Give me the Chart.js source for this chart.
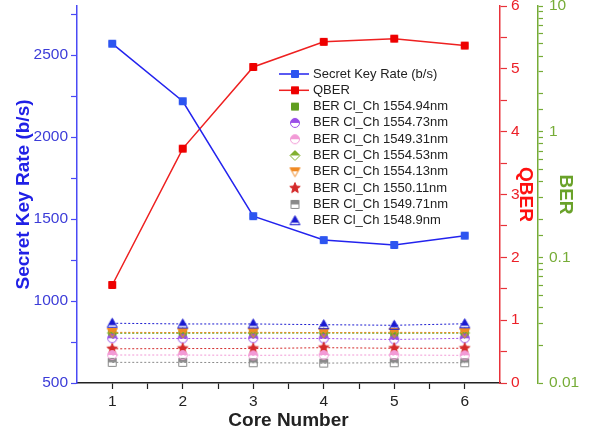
<!DOCTYPE html>
<html>
<head>
<meta charset="utf-8">
<script src="https://cdn.jsdelivr.net/npm/chart.js@4/dist/chart.umd.min.js"></script>
<style>
  html, body { margin: 0; padding: 0; background: #fff; }
  #wrap { width: 592px; height: 431px; }
</style>
</head>
<body>
<div id="wrap"><canvas id="chart" width="592" height="431"></canvas></div>
<script>
// Data
const coreNumbers = [1, 2, 3, 4, 5, 6];
const secretKeyRate = [2570, 2219, 1518, 1372, 1342, 1399];
const qber = [1.56, 3.73, 5.03, 5.43, 5.48, 5.37];

const ber155494 = [0.0249, 0.0249, 0.0250, 0.0250, 0.0249, 0.0250];
const ber155473 = [0.0227, 0.0226, 0.0227, 0.0226, 0.0222, 0.0227];
const ber154931 = [0.0167, 0.0167, 0.0166, 0.0167, 0.0167, 0.0166];
const ber155453 = [0.0250, 0.0251, 0.0250, 0.0251, 0.0250, 0.0250];
const ber155413 = [0.0253, 0.0252, 0.0253, 0.0252, 0.0253, 0.0252];
const ber155011 = [0.0187, 0.0188, 0.0188, 0.0191, 0.0189, 0.0189];
const ber154971 = [0.0146, 0.0146, 0.0145, 0.0144, 0.0145, 0.0145];
const ber15489  = [0.0299, 0.0295, 0.0295, 0.0291, 0.0288, 0.0296];

// Axis ticks
const xTicks = [1, 1.5, 2, 2.5, 3, 3.5, 4, 4.5, 5, 5.5, 6];
const skrTicks = [500, 750, 1000, 1250, 1500, 1750, 2000, 2250, 2500, 2750];
const qberTicks = [0, 0.5, 1, 1.5, 2, 2.5, 3, 3.5, 4, 4.5, 5, 5.5, 6];

const FONT = '"Liberation Sans", Arial, sans-serif';
const BLUE = '#2323ee', RED = '#ee2020', GREEN = '#76ac37';

// draws a small marker into its own canvas, filled from the top by fillFrac
function makeMarker(shape, color, fillFrac, size) {
    const s = size + 3;
    const c = document.createElement('canvas');
    c.width = s; c.height = s;
    const ctx = c.getContext('2d');
    const cx = s / 2, cy = s / 2, r = size / 2;
    const trace = () => {
        ctx.beginPath();
        if (shape === 'square') {
            ctx.rect(cx - r, cy - r, size, size);
        } else if (shape === 'circle') {
            ctx.arc(cx, cy, r, 0, Math.PI * 2);
        } else if (shape === 'diamond') {
            ctx.moveTo(cx, cy - r); ctx.lineTo(cx + r, cy); ctx.lineTo(cx, cy + r); ctx.lineTo(cx - r, cy);
            ctx.closePath();
        } else if (shape === 'triUp') {
            ctx.moveTo(cx, cy - r); ctx.lineTo(cx + r, cy + r * 0.8); ctx.lineTo(cx - r, cy + r * 0.8);
            ctx.closePath();
        } else if (shape === 'triDown') {
            ctx.moveTo(cx, cy + r); ctx.lineTo(cx + r, cy - r * 0.8); ctx.lineTo(cx - r, cy - r * 0.8);
            ctx.closePath();
        } else if (shape === 'star') {
            for (let i = 0; i < 10; i++) {
                const a = -Math.PI / 2 + i * Math.PI / 5;
                const rr = i % 2 === 0 ? r : r * 0.45;
                const px = cx + rr * Math.cos(a), py = cy + rr * Math.sin(a);
                if (i === 0) ctx.moveTo(px, py); else ctx.lineTo(px, py);
            }
            ctx.closePath();
        }
    };
    ctx.save();
    trace();
    ctx.clip();
    ctx.fillStyle = color;
    ctx.fillRect(0, 0, s, cy - r + fillFrac * size);
    ctx.restore();
    trace();
    ctx.lineWidth = 1;
    ctx.strokeStyle = color;
    ctx.stroke();
    return c;
}

const toPoints = (vals) => coreNumbers.map((c, i) => ({ x: c, y: vals[i] }));

function berSet(label, vals, color, marker, order) {
    return {
        label: label,
        data: toPoints(vals),
        yAxisID: 'yBer',
        borderColor: color,
        backgroundColor: color,
        borderWidth: 1,
        borderDash: [2, 2],
        pointStyle: marker,
        pointRadius: 5,
        tension: 0,
        order: order || 0
    };
}

const datasets = [
    { label: 'Secret Key Rate (b/s)', data: toPoints(secretKeyRate), yAxisID: 'ySkr',
      borderColor: BLUE, backgroundColor: '#2d55f0', borderWidth: 1.5,
      pointStyle: makeMarker('square', '#2d55f0', 1, 7), pointRadius: 4, tension: 0, showInLegendLine: true },
    { label: 'QBER', data: toPoints(qber), yAxisID: 'yQber',
      borderColor: RED, backgroundColor: '#ee0000', borderWidth: 1.5,
      pointStyle: makeMarker('square', '#ee0000', 1, 7), pointRadius: 4, tension: 0, showInLegendLine: true },
    // this one sits behind the others, as in the original
    berSet('BER Cl_Ch 1554.94nm', ber155494, '#5f9e1f', makeMarker('square', '#5f9e1f', 1, 7), 5),
    berSet('BER Cl_Ch 1554.73nm', ber155473, '#9a4ee8', makeMarker('circle', '#9a4ee8', 0.5, 9), 4),
    berSet('BER Cl_Ch 1549.31nm', ber154931, '#f29ad6', makeMarker('circle', '#f29ad6', 0.5, 9)),
    berSet('BER Cl_Ch 1554.53nm', ber155453, '#82b030', makeMarker('diamond', '#82b030', 0.5, 10), 3),
    berSet('BER Cl_Ch 1554.13nm', ber155413, '#f08a24', makeMarker('triDown', '#f08a24', 0.45, 10), 2),
    berSet('BER Cl_Ch 1550.11nm', ber155011, '#d42a2a', makeMarker('star', '#d42a2a', 1, 11)),
    berSet('BER Cl_Ch 1549.71nm', ber154971, '#8a8a8a', makeMarker('square', '#8a8a8a', 0.5, 8)),
    berSet('BER Cl_Ch 1548.9nm', ber15489, '#1a1ad0', makeMarker('triUp', '#1a1ad0', 0.7, 10))
];

// fixed axis box sizes so the plot area sits where the original one does
function fixSize(w, h) {
    return function(scale) {
        if (w !== null) scale.width = w;
        if (h !== null) scale.height = h;
        scale.paddingTop = 0; scale.paddingBottom = 0;
        scale.paddingLeft = 0; scale.paddingRight = 0;
    };
}
const setTicks = (arr) => (scale) => { scale.ticks = arr.map(v => ({ value: v })); };

// legend drawn inside the plot, like the original
const insideLegend = {
    id: 'insideLegend',
    afterDraw(chart) {
        const ctx = chart.ctx;
        ctx.save();
        ctx.font = '13px ' + FONT;
        ctx.textBaseline = 'middle';
        ctx.fillStyle = '#222';
        chart.data.datasets.forEach((ds, i) => {
            const y = 74 + i * 16.3;
            if (ds.showInLegendLine) {
                ctx.strokeStyle = ds.borderColor;
                ctx.lineWidth = 1.5;
                ctx.beginPath(); ctx.moveTo(279, y); ctx.lineTo(309, y); ctx.stroke();
            }
            const m = ds.pointStyle;
            ctx.drawImage(m, 295 - m.width / 2, y - m.height / 2);
            ctx.fillText(ds.label, 313, y);
        });
        ctx.restore();
    }
};

const tickFont = { family: FONT, size: 15.5 };
const titleFont = { family: FONT, size: 19, weight: 'bold' };

new Chart(document.getElementById('chart').getContext('2d'), {
    type: 'line',
    data: { datasets: datasets },
    options: {
        responsive: false,
        animation: false,
        layout: { padding: { top: 6, left: 0, right: 0, bottom: 0 } },
        plugins: { legend: { display: false }, tooltip: { enabled: false } },
        scales: {
            x: {
                type: 'linear', position: 'bottom', min: 0.5, max: 6.5,
                afterBuildTicks: setTicks(xTicks),
                afterFit: fixSize(null, 48),
                grid: { drawOnChartArea: false, tickLength: 6, tickColor: '#222', tickWidth: 1.2 },
                border: { color: '#222', width: 1.5 },
                ticks: { autoSkip: false, maxRotation: 0, padding: 3, color: '#222', font: tickFont,
                         callback: (v) => Number.isInteger(v) ? String(v) : '' },
                title: { display: true, text: 'Core Number', color: '#222',
                         font: { family: FONT, size: 19, weight: 'bold', lineHeight: 1 },
                         padding: { top: 0, bottom: 1 } }
            },
            ySkr: {
                type: 'linear', position: 'left', min: 500, max: 2800,
                afterBuildTicks: setTicks(skrTicks),
                afterFit: fixSize(77, null),
                grid: { drawOnChartArea: false, tickLength: 6, tickColor: '#4a4af5', tickWidth: 1.2 },
                border: { color: '#4a4af5', width: 1.5 },
                ticks: { autoSkip: false, padding: 3, color: '#3c3cd8', font: tickFont,
                         callback: (v) => v % 500 === 0 ? String(v) : '' },
                title: { display: true, text: 'Secret Key Rate (b/s)', color: '#2020e6', font: titleFont,
                         padding: { top: 12.5, bottom: 0 } }
            },
            yQber: {
                type: 'linear', position: 'right', min: 0, max: 6,
                afterBuildTicks: setTicks(qberTicks),
                afterFit: fixSize(38, null),
                grid: { drawOnChartArea: false, tickLength: 7, tickColor: '#e8323a', tickWidth: 1.2 },
                border: { color: '#e8323a', width: 1.5 },
                ticks: { autoSkip: false, padding: 4, color: '#ec2028', font: tickFont,
                         callback: (v) => Number.isInteger(v) ? String(v) : '' },
                title: { display: true, text: 'QBER', color: '#ff1010', font: titleFont,
                         padding: { top: 1, bottom: 0 } }
            },
            yBer: {
                type: 'logarithmic', position: 'right', min: 0.01, max: 10,
                afterFit: fixSize(54, null),
                grid: { drawOnChartArea: false, tickLength: 5, tickColor: GREEN, tickWidth: 1.2 },
                border: { color: GREEN, width: 1.5 },
                ticks: { autoSkip: false, padding: 6, color: GREEN, font: tickFont,
                         callback: (v) => {
                             const e = Math.log10(v);
                             return Math.abs(e - Math.round(e)) < 1e-6 ? String(v) : '';
                         } },
                title: { display: true, text: 'BER', color: '#6aa22a', font: titleFont,
                         padding: { top: 15, bottom: 0 } }
            }
        }
    },
    plugins: [insideLegend]
});
</script>
</body>
</html>
